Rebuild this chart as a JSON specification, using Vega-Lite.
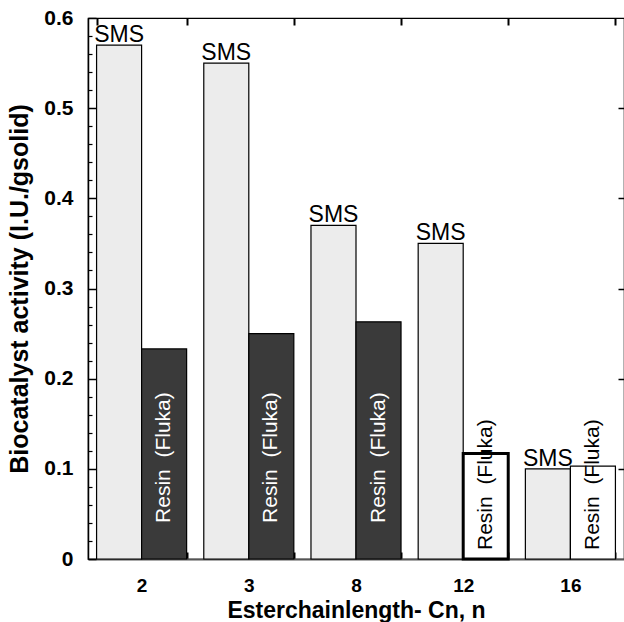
{
  "$schema": "https://vega.github.io/schema/vega-lite/v6.json",
  "width": 536,
  "height": 541,
  "autosize": {"type": "none"},
  "padding": {"left": 88, "top": 18, "right": 0, "bottom": 63},
  "config": {
    "font": "Liberation Sans",
    "view": {"stroke": "black", "strokeWidth": 1.2},
    "axis": {"grid": false, "ticks": true, "zindex": 1, "tickColor": "#000000", "domainColor": "black", "labelColor": "black", "titleColor": "black"}
  },
  "resolve": {"axis": {"y": "independent", "x": "independent"}},
  "data": {
    "values": [
      {"n": 2, "series": "SMS", "activity": 0.57},
      {"n": 3, "series": "SMS", "activity": 0.55},
      {"n": 8, "series": "SMS", "activity": 0.37},
      {"n": 12, "series": "SMS", "activity": 0.35},
      {"n": 16, "series": "SMS", "activity": 0.10},
      {"n": 2, "series": "Resin", "activity": 0.233},
      {"n": 3, "series": "Resin", "activity": 0.25},
      {"n": 8, "series": "Resin", "activity": 0.263},
      {"n": 12, "series": "Resin", "activity": 0.117},
      {"n": 16, "series": "Resin", "activity": 0.103}
    ]
  },
  "layer": [
    {
      "mark": {"type": "bar", "stroke": "black"},
      "encoding": {
        "x": {
          "field": "n", "type": "ordinal",
          "scale": {"paddingInner": 0.16, "paddingOuter": 0.08},
          "axis": {
            "orient": "bottom", "title": "Esterchainlength- Cn, n",
            "titleFontSize": 23, "titleFontWeight": "bold", "titlePadding": 4,
            "labelFontSize": 19, "labelFontWeight": "bold", "labelAngle": 0, "labelPadding": 24,
            "tickBand": "extent", "tickSize": -7, "tickWidth": 2,
            "domainColor": "#555", "domainWidth": 2
          }
        },
        "xOffset": {"field": "series", "sort": ["SMS", "Resin"], "scale": {"paddingInner": 0, "paddingOuter": 0}},
        "y": {
          "field": "activity", "type": "quantitative",
          "scale": {"domain": [0, 0.6], "nice": false},
          "axis": {
            "orient": "left", "title": "Biocatalyst activity (I.U./gsolid)",
            "titleFontSize": 25, "titleFontWeight": "bold", "titlePadding": 11,
            "labelFontSize": 21, "labelFontWeight": "bold", "labelPadding": 23,
            "values": [0, 0.1, 0.2, 0.3, 0.4, 0.5, 0.6],
            "labelExpr": "datum.value==0 ? '0' : format(datum.value,'.1f')",
            "tickSize": -8,
            "tickWidth": 1.5,
            "domainWidth": 1.5
          }
        },
        "color": {
          "condition": [
            {"test": "datum.series=='SMS'", "value": "#ececec"},
            {"test": "datum.n>=12", "value": "white"}
          ],
          "value": "#3a3a3a"
        },
        "strokeWidth": {"condition": {"test": "datum.series=='Resin' && datum.n==12", "value": 3}, "value": 1.2}
      }
    },
    {
      "transform": [{"filter": "datum.series=='SMS'"}],
      "mark": {"type": "text", "fontSize": 23, "baseline": "alphabetic", "dy": -3, "color": "black"},
      "encoding": {
        "x": {
          "field": "n", "type": "ordinal",
          "axis": {"orient": "top", "labels": false, "title": null, "tickBand": "extent", "tickSize": -7, "tickWidth": 2, "domain": false}
        },
        "xOffset": {"field": "series", "sort": ["SMS", "Resin"]},
        "y": {
          "field": "activity", "type": "quantitative",
          "axis": {"orient": "right", "labels": false, "title": null, "tickSize": -6, "tickWidth": 1.5, "values": [0.1, 0.2, 0.3, 0.4, 0.5], "domain": false}
        },
        "text": {"value": "SMS"}
      }
    },
    {
      "transform": [{"filter": "datum.series=='Resin' && datum.n<12"}],
      "mark": {"type": "text", "fontSize": 21, "angle": 270, "align": "left", "baseline": "middle", "color": "white"},
      "encoding": {
        "x": {"field": "n", "type": "ordinal", "axis": null},
        "xOffset": {"field": "series", "sort": ["SMS", "Resin"]},
        "y": {
          "datum": 0.04, "type": "quantitative",
          "axis": {"orient": "left", "labels": false, "title": null, "domain": false, "tickSize": -4, "tickWidth": 1.2,
            "values": [0.02, 0.04, 0.06, 0.08, 0.12, 0.14, 0.16, 0.18, 0.22, 0.24, 0.26, 0.28, 0.32, 0.34, 0.36, 0.38, 0.42, 0.44, 0.46, 0.48, 0.52, 0.54, 0.56, 0.58]}
        },
        "text": {"value": "Resin\u00a0 (Fluka)"}
      }
    },
    {
      "transform": [{"filter": "datum.series=='Resin' && datum.n>=12"}],
      "mark": {"type": "text", "fontSize": 21, "angle": 270, "align": "left", "baseline": "middle", "color": "black"},
      "encoding": {
        "x": {"field": "n", "type": "ordinal", "axis": null},
        "xOffset": {"field": "series", "sort": ["SMS", "Resin"]},
        "y": {"datum": 0.01, "type": "quantitative", "axis": null},
        "text": {"value": "Resin\u00a0 (Fluka)"}
      }
    }
  ]
}
